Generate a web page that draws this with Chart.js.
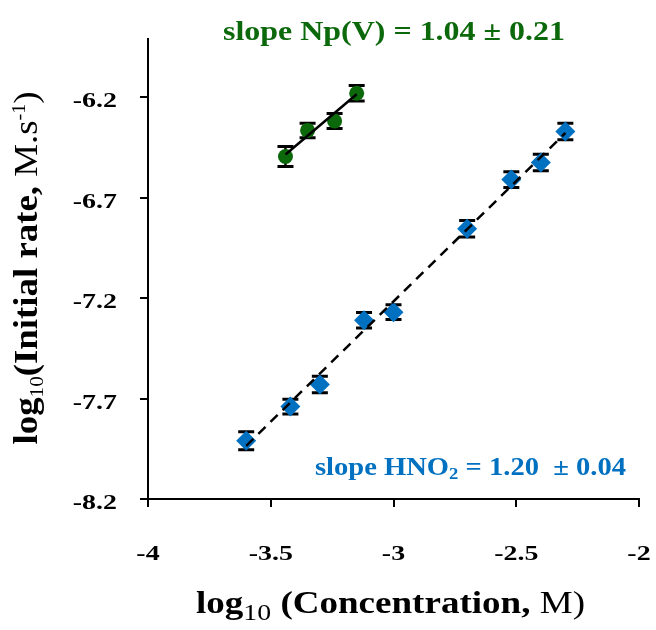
<!DOCTYPE html>
<html>
<head>
<meta charset="utf-8">
<script src="https://cdn.jsdelivr.net/npm/chart.js"></script>
<style>
  html, body { margin: 0; padding: 0; background: #fff; }
  #chart { display: block; }
</style>
</head>
<body>
<canvas id="chart" width="656" height="630"></canvas>
<script>
// log10 of concentration (M) vs log10 of initial rate
const hno2X = [-3.60, -3.42, -3.30, -3.12, -3.00, -2.70, -2.52, -2.40, -2.30];
const hno2Y = [-7.91, -7.74, -7.63, -7.31, -7.27, -6.855, -6.61, -6.525, -6.37];
const hno2Err = [0.045, 0.037, 0.041, 0.039, 0.037, 0.041, 0.039, 0.041, 0.041];

const npX = [-3.44, -3.35, -3.24, -3.15];
const npY = [-6.495, -6.365, -6.318, -6.18];
const npErr = [0.05, 0.036, 0.037, 0.039];

// end points of the fitted lines
const hno2FitX = [-3.60, -2.30];
const hno2FitY = [-7.935, -6.378];
const npFitX = [-3.44, -3.15];
const npFitY = [-6.485, -6.185];

const xTicks = [-4, -3.5, -3, -2.5, -2];
const yTicks = [-8.2, -7.7, -7.2, -6.7, -6.2];

const BLUE = '#0070C0';
const GREEN = '#0b680b';
const SERIF = '"Liberation Serif", "Times New Roman", serif';

const pts = (xs, ys) => xs.map((x, i) => ({ x: x, y: ys[i] }));

// draw a row of text runs, stretched horizontally to fit a given width (or by factor)
function drawRuns(ctx, runs, x, y, opts) {
  ctx.save();
  let total = 0;
  runs.forEach(r => { ctx.font = r.font; r.w = ctx.measureText(r.text).width; total += r.w; });
  const sx = opts.width ? opts.width / total : (opts.sx || 1);
  ctx.translate(x, y);
  if (opts.rotate) ctx.rotate(-Math.PI / 2);
  ctx.scale(sx, 1);
  let cx = opts.align === 'center' ? -total / 2 : opts.align === 'right' ? -total : 0;
  ctx.textBaseline = 'alphabetic';
  ctx.textAlign = 'left';
  ctx.fillStyle = opts.color || '#000';
  runs.forEach(r => {
    ctx.font = r.font;
    ctx.fillText(r.text, cx, r.dy || 0);
    cx += r.w;
  });
  ctx.restore();
}

// error bars sit under the markers
const errorBars = {
  id: 'errorBars',
  beforeDatasetsDraw(chart) {
    const ctx = chart.ctx;
    const xs = chart.scales.x, ys = chart.scales.y;
    const sets = [[hno2X, hno2Y, hno2Err], [npX, npY, npErr]];
    ctx.save();
    ctx.strokeStyle = '#000';
    sets.forEach(([X, Y, E]) => {
      X.forEach((xv, i) => {
        const px = xs.getPixelForValue(xv);
        const top = ys.getPixelForValue(Y[i] + E[i]);
        const bot = ys.getPixelForValue(Y[i] - E[i]);
        ctx.lineWidth = 2.5;
        ctx.beginPath();
        ctx.moveTo(px, top); ctx.lineTo(px, bot);
        ctx.stroke();
        ctx.lineWidth = 3;
        ctx.beginPath();
        ctx.moveTo(px - 8, top); ctx.lineTo(px + 8, top);
        ctx.moveTo(px - 8, bot); ctx.lineTo(px + 8, bot);
        ctx.stroke();
      });
    });
    ctx.restore();
  }
};

const labels = {
  id: 'labels',
  afterDraw(chart) {
    const ctx = chart.ctx;
    const xs = chart.scales.x, ys = chart.scales.y;
    const tickFont = 'bold 21px ' + SERIF;

    yTicks.forEach(v => {
      drawRuns(ctx, [{ text: String(v), font: tickFont }], 117, ys.getPixelForValue(v) + 10, { align: 'right', sx: 1.33 });
    });
    xTicks.forEach(v => {
      drawRuns(ctx, [{ text: String(v), font: tickFont }], xs.getPixelForValue(v), 560, { align: 'center', sx: 1.33 });
    });

    // x axis title
    drawRuns(ctx, [
      { text: 'log', font: 'bold 32px ' + SERIF },
      { text: '10', font: '24px ' + SERIF, dy: 7 },
      { text: ' (Concentration, ', font: 'bold 32px ' + SERIF },
      { text: 'M)', font: '32px ' + SERIF }
    ], 196, 613, { width: 389 });

    // y axis title
    drawRuns(ctx, [
      { text: 'log', font: 'bold 33px ' + SERIF },
      { text: '10', font: '19px ' + SERIF, dy: 6 },
      { text: '(Initial rate, ', font: 'bold 33px ' + SERIF },
      { text: 'M.s', font: '33px ' + SERIF },
      { text: '-1', font: '18px ' + SERIF, dy: -12 },
      { text: ')', font: '33px ' + SERIF }
    ], 37, 268, { rotate: true, align: 'center', width: 353 });

    // slope annotations
    drawRuns(ctx, [{ text: 'slope Np(V) = 1.04 ± 0.21', font: 'bold 27px ' + SERIF }],
      223, 40, { width: 342, color: GREEN });
    drawRuns(ctx, [
      { text: 'slope HNO', font: 'bold 26px ' + SERIF },
      { text: '2', font: 'bold 17px ' + SERIF, dy: 4 },
      { text: ' = 1.20  ± 0.04', font: 'bold 26px ' + SERIF }
    ], 315, 475, { width: 311, color: BLUE });
  }
};

const axisLine = { color: '#000', width: 2 };
const gridOpts = { drawOnChartArea: false, drawTicks: true, tickLength: 8, color: '#000', lineWidth: 2 };

new Chart(document.getElementById('chart').getContext('2d'), {
  type: 'scatter',
  data: {
    datasets: [
      {
        label: 'HNO2 fit',
        type: 'line',
        data: pts(hno2FitX, hno2FitY),
        borderColor: '#000',
        borderWidth: 2.5,
        borderDash: [10, 7],
        pointRadius: 0,
        fill: false,
        order: 0
      },
      {
        label: 'Np(V) fit',
        type: 'line',
        data: pts(npFitX, npFitY),
        borderColor: '#000',
        borderWidth: 2.5,
        pointRadius: 0,
        fill: false,
        order: 0
      },
      {
        label: 'HNO2',
        data: pts(hno2X, hno2Y),
        pointStyle: 'rectRot',
        pointRadius: 10,
        backgroundColor: BLUE,
        borderWidth: 0,
        order: 1
      },
      {
        label: 'Np(V)',
        data: pts(npX, npY),
        pointStyle: 'circle',
        pointRadius: 7.5,
        backgroundColor: GREEN,
        borderWidth: 0,
        order: 1
      }
    ]
  },
  options: {
    responsive: false,
    animation: false,
    devicePixelRatio: 1,
    layout: { padding: { top: 39, right: 17, left: 0, bottom: 0 } },
    plugins: { legend: { display: false }, tooltip: { enabled: false } },
    scales: {
      x: {
        type: 'linear',
        min: -4,
        max: -2,
        afterBuildTicks: s => { s.ticks = xTicks.map(v => ({ value: v })); },
        afterFit: s => { s.height = 131; },
        ticks: { display: false },
        grid: gridOpts,
        border: axisLine
      },
      y: {
        type: 'linear',
        min: -8.2,
        max: -5.91,
        afterBuildTicks: s => { s.ticks = yTicks.map(v => ({ value: v })); },
        afterFit: s => { s.width = 148; },
        ticks: { display: false },
        grid: gridOpts,
        border: axisLine
      }
    }
  },
  plugins: [errorBars, labels]
});
</script>
</body>
</html>
